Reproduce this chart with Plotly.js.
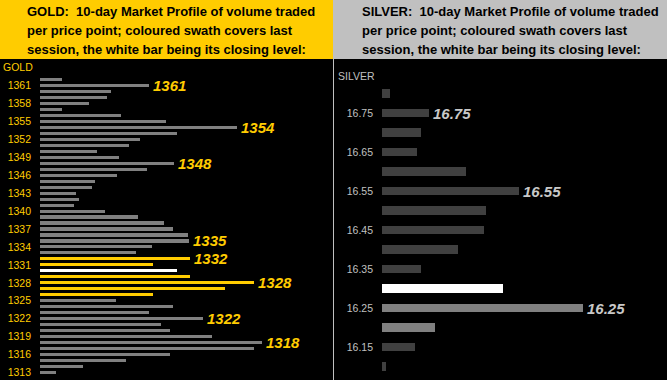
<!DOCTYPE html>
<html>
<head>
<meta charset="utf-8">
<script src="https://cdn.plot.ly/plotly-3.0.1.min.js"></script>
<style>
html,body{margin:0;padding:0;background:#000;}
#chart{width:667px;height:380px;}
</style>
</head>
<body>
<div id="chart"></div>
<script>
// ---------- DATA ----------
const goldPrices = [1362,1361,1360,1359,1358,1357,1356,1355,1354,1353,1352,1351,1350,1349,1348,1347,1346,1345,1344,1343,1342,1341,1340,1339,1338,1337,1336,1335,1334,1333,1332,1331,1330,1329,1328,1327,1326,1325,1324,1323,1322,1321,1320,1319,1318,1317,1316,1315,1314,1313];
const goldVolumes = [22,109,71,67,49,22,81,126,197,137,100,89,57,79,134,107,77,55,52,36,39,34,65,98,124,133,148,149,112,96,150,113,137,150,214,185,113,76,133,109,163,121,130,172,222,214,130,86,43,16];
const goldTicks = [1361,1358,1355,1352,1349,1346,1343,1340,1337,1334,1331,1328,1325,1322,1319,1316,1313];
const goldLabelPrices = [1361,1354,1348,1335,1332,1328,1322,1318];
const goldSessionLow = 1326, goldSessionHigh = 1332, goldClose = 1330;

const silverPrices = [16.80,16.75,16.70,16.65,16.60,16.55,16.50,16.45,16.40,16.35,16.30,16.25,16.20,16.15,16.10];
const silverVolumes = [8,47,39,35,84,137,104,102,76,39,121,201,53,33,4];
const silverTicks = [16.75,16.65,16.55,16.45,16.35,16.25,16.15];
const silverLabelPrices = [16.75,16.55,16.25];
const silverSessionLow = 16.20, silverSessionHigh = 16.30, silverClose = 16.30;

const goldTitle = ["GOLD:  10-day Market Profile of volume traded","per price point; coloured swath covers last","session, the white bar being its closing level:"];
const silverTitle = ["SILVER:  10-day Market Profile of volume traded","per price point; coloured swath covers last","session, the white bar being its closing level:"];

// ---------- STYLE ----------
const W = 667, H = 380;
const FONT = "Liberation Sans, Arial, sans-serif";
const GOLD = "#FFCC00", SILV = "#C0C0C0";
const px = x => x / W;
const py = y => 1 - y / H;

const goldColors = goldPrices.map(p => p === goldClose ? "#FFFFFF" : (p >= goldSessionLow && p <= goldSessionHigh ? GOLD : "#808080"));
const c100 = v => Math.round(v * 100);
const silverColors = silverPrices.map(p => c100(p) === c100(silverClose) ? "#FFFFFF" :
  (c100(p) >= c100(silverSessionLow) && c100(p) <= c100(silverSessionHigh) ? "#808080" : "#404040"));

const vol = (prices, vols, p) => vols[prices.findIndex(q => c100(q) === c100(p))];

const traces = [
  {type:"bar", orientation:"h", y:goldPrices, x:goldVolumes, width:0.52,
   marker:{color:goldColors, line:{width:0}}, xaxis:"x", yaxis:"y", hoverinfo:"skip"},
  {type:"bar", orientation:"h", y:silverPrices, x:silverVolumes, width:0.021,
   marker:{color:silverColors, line:{width:0}}, xaxis:"x2", yaxis:"y2", hoverinfo:"skip"}
];

const topPlot = py(59);
const axisBase = {showgrid:false, zeroline:false, showline:false, fixedrange:true};

const annotations = [];
goldTitle.forEach((t,i) => annotations.push({xref:"paper", yref:"paper", x:px(25), y:py(11.5 + i*19), xanchor:"left", yanchor:"middle",
  text:t, showarrow:false, font:{family:FONT, size:13, color:"#000", weight:"bold"}}));
silverTitle.forEach((t,i) => annotations.push({xref:"paper", yref:"paper", x:px(360), y:py(11.5 + i*19), xanchor:"left", yanchor:"middle",
  text:t, showarrow:false, font:{family:FONT, size:13, color:"#000", weight:"bold"}}));
annotations.push({xref:"paper", yref:"paper", x:px(1), y:py(67), xanchor:"left", yanchor:"middle", text:"GOLD", showarrow:false,
  font:{family:FONT, size:10.5, color:GOLD}});
annotations.push({xref:"paper", yref:"paper", x:px(336), y:py(75.5), xanchor:"left", yanchor:"middle", text:"SILVER", showarrow:false,
  font:{family:FONT, size:10.5, color:SILV}});
goldLabelPrices.forEach(p => annotations.push({xref:"x", yref:"y", x:vol(goldPrices, goldVolumes, p), y:p, xanchor:"left", yanchor:"middle",
  xshift:2, text:String(p), showarrow:false, font:{family:FONT, size:15, color:GOLD, weight:"bold", style:"italic"}}));
silverLabelPrices.forEach(p => annotations.push({xref:"x2", yref:"y2", x:vol(silverPrices, silverVolumes, p), y:p, xanchor:"left", yanchor:"middle",
  xshift:2, text:p.toFixed(2), showarrow:false, font:{family:FONT, size:15, color:"#C8C8C8", weight:"bold", style:"italic"}}));

const layout = {
  width:W, height:H, margin:{l:0,r:0,t:0,b:0},
  paper_bgcolor:"#000", plot_bgcolor:"#000", showlegend:false, bargap:0,
  xaxis:Object.assign({}, axisBase, {domain:[px(40), px(333)], range:[0,293], showticklabels:false, anchor:"y"}),
  yaxis:Object.assign({}, axisBase, {domain:[0, topPlot], range:[1362 - 300.5/5.98, 1362 + 20.5/5.98], anchor:"x",
    tickmode:"array", tickvals:goldTicks, ticktext:goldTicks.map(String), ticks:"", ticklabelstandoff:8,
    tickfont:{family:FONT, size:10.5, color:GOLD}}),
  xaxis2:Object.assign({}, axisBase, {domain:[px(382), 1], range:[0,285], showticklabels:false, anchor:"y2"}),
  yaxis2:Object.assign({}, axisBase, {domain:[0, topPlot], range:[16.75 - 267/390, 16.75 + 54/390], anchor:"x2",
    tickmode:"array", tickvals:silverTicks, ticktext:silverTicks.map(v => v.toFixed(2)), ticks:"", ticklabelstandoff:8,
    tickfont:{family:FONT, size:10.5, color:SILV}}),
  shapes:[
    {type:"rect", xref:"paper", yref:"paper", x0:0, x1:px(333), y0:topPlot, y1:1, fillcolor:GOLD, line:{width:0}, layer:"above"},
    {type:"rect", xref:"paper", yref:"paper", x0:px(334), x1:1, y0:topPlot, y1:1, fillcolor:SILV, line:{width:0}, layer:"above"},
    {type:"line", xref:"paper", yref:"paper", x0:px(333.5), x1:px(333.5), y0:0, y1:1, line:{color:SILV, width:1}, layer:"above"}
  ],
  annotations:annotations
};

Plotly.newPlot("chart", traces, layout, {displayModeBar:false, staticPlot:true});
</script>
</body>
</html>
